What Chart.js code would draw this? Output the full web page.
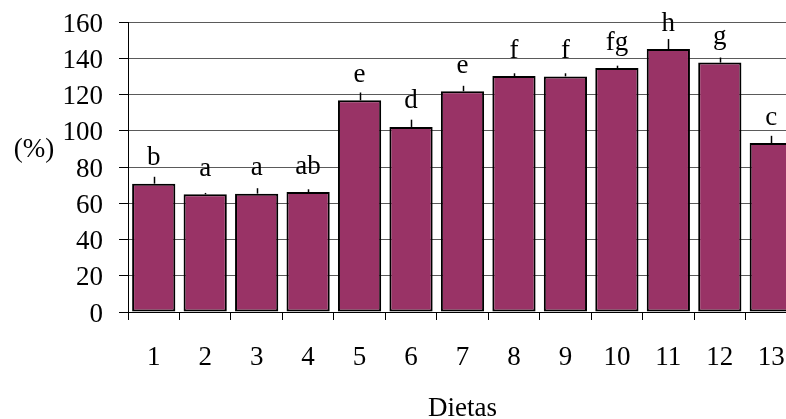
<!DOCTYPE html>
<html>
<head>
<meta charset="utf-8">
<script src="https://cdn.jsdelivr.net/npm/chart.js@4/dist/chart.umd.min.js"></script>
<style>
  html, body { margin: 0; padding: 0; background: #fff; overflow: hidden; }
  #wrap { width: 786px; height: 419px; overflow: hidden; position: relative; }
  canvas { display: block; }
</style>
</head>
<body>
<div id="wrap"><canvas id="chart" width="797" height="419"></canvas></div>
<script>
// Diets on the category axis
const diets = ['1', '2', '3', '4', '5', '6', '7', '8', '9', '10', '11', '12', '13'];
// Mean value per diet (%)
const means = [70.8, 64.9, 65.3, 66.2, 116.8, 102.1, 121.8, 130.2, 130.0, 134.6, 145.1, 137.6, 93.2];
// Upper error (standard error) per diet
const errors = [3.8, 0.8, 3.0, 1.5, 4.3, 4.0, 3.0, 1.5, 1.7, 1.3, 5.5, 2.8, 4.0];
// Significance letters over each bar
const letters = ['b', 'a', 'a', 'ab', 'e', 'd', 'e', 'f', 'f', 'fg', 'h', 'g', 'c'];
// Value axis range and step
const yMin = 0;
const yMax = 160;
const yStep = 20;

const SERIF = '"Liberation Serif", "Times New Roman", serif';
const FONT_SIZE = 27;

// Upward error whiskers, letters above the bars, and the axis captions
const annotate = {
  id: 'annotate',
  afterDatasetsDraw(chart) {
    const ctx = chart.ctx;
    const yScale = chart.scales.y;
    const meta = chart.getDatasetMeta(0);
    ctx.save();
    ctx.strokeStyle = '#000';
    ctx.lineWidth = 1.5;
    meta.data.forEach((bar, i) => {
      const x = Math.round(bar.x) + 0.5;
      const yTop = yScale.getPixelForValue(means[i]);
      const yErr = yScale.getPixelForValue(means[i] + errors[i]);
      ctx.beginPath();
      ctx.moveTo(x, yTop);
      ctx.lineTo(x, yErr);
      ctx.stroke();
    });
    ctx.fillStyle = '#000';
    ctx.font = FONT_SIZE + 'px ' + SERIF;
    ctx.textAlign = 'center';
    ctx.textBaseline = 'alphabetic';
    meta.data.forEach((bar, i) => {
      const yTop = yScale.getPixelForValue(means[i]);
      ctx.fillText(letters[i], bar.x, yTop - 18.5);
    });
    ctx.restore();
  },
  afterDraw(chart) {
    const ctx = chart.ctx;
    const area = chart.chartArea;
    const yScale = chart.scales.y;
    ctx.save();
    ctx.fillStyle = '#000';
    ctx.font = FONT_SIZE + 'px ' + SERIF;
    ctx.textAlign = 'center';
    ctx.textBaseline = 'middle';
    ctx.fillText('(%)', 34, yScale.getPixelForValue(90) + 1);
    ctx.textBaseline = 'alphabetic';
    ctx.fillText('Dietas', (area.left + area.right) / 2, 416);
    ctx.restore();
  }
};

new Chart(document.getElementById('chart'), {
  type: 'bar',
  data: {
    labels: diets,
    datasets: [{
      data: means,
      backgroundColor: '#993366',
      borderColor: '#000',
      borderWidth: 2,
      borderSkipped: false,
      barPercentage: 0.84,
      categoryPercentage: 1.0
    }]
  },
  options: {
    responsive: false,
    animation: false,
    devicePixelRatio: 1,
    layout: { padding: { top: 22, left: 0, right: 0, bottom: 0 } },
    plugins: {
      legend: { display: false },
      tooltip: { enabled: false }
    },
    scales: {
      x: {
        offset: true,
        border: { display: true, color: '#000', width: 1 },
        grid: {
          display: true,
          offset: true,
          drawOnChartArea: false,
          drawTicks: true,
          tickLength: 8,
          color: '#000',
          tickColor: '#000'
        },
        ticks: {
          color: '#000',
          padding: 21.5,
          maxRotation: 0,
          autoSkip: false,
          font: { family: SERIF, size: FONT_SIZE }
        },
        afterFit(scale) {
          scale.height = 107;
          scale.paddingLeft = 0;
          scale.paddingRight = 0;
        }
      },
      y: {
        min: yMin,
        max: yMax,
        border: { display: true, color: '#000', width: 1 },
        grid: {
          color: '#5a5a5a',
          tickColor: '#000',
          tickLength: 9,
          drawTicks: true
        },
        ticks: {
          stepSize: yStep,
          autoSkip: false,
          color: '#000',
          padding: 16,
          labelOffset: 2.5,
          font: { family: SERIF, size: FONT_SIZE }
        },
        afterFit(scale) {
          scale.width = 128;
          scale.paddingTop = 0;
          scale.paddingBottom = 0;
        }
      }
    }
  },
  plugins: [annotate]
});
</script>
</body>
</html>
